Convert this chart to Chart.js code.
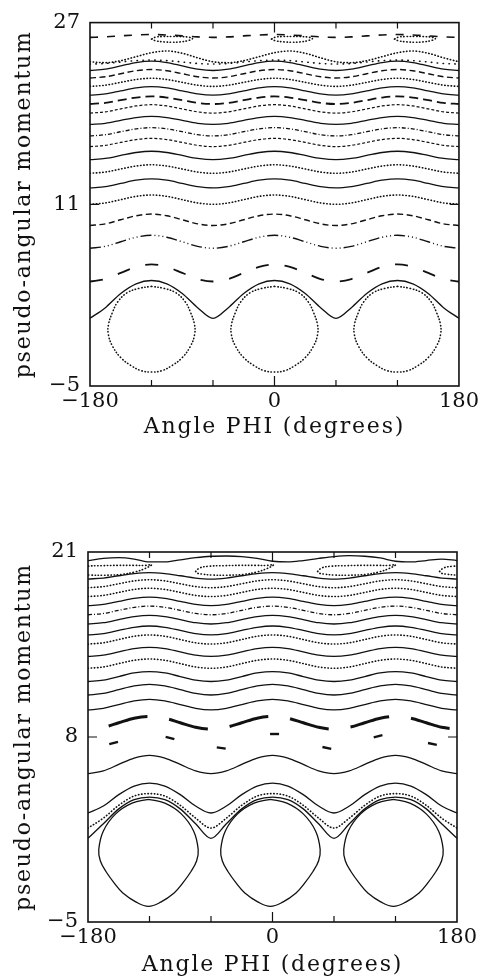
<!DOCTYPE html>
<html>
<head>
<meta charset="utf-8">
<script src="https://cdn.jsdelivr.net/npm/chart.js@4.4.1/dist/chart.umd.min.js"></script>
<style>
  html, body { margin: 0; padding: 0; background: #fff; }
  body { width: 482px; height: 980px; position: relative; overflow: hidden; }
  .panel { position: absolute; left: 0; width: 482px; }
  #topWrap { top: 0; height: 442px; }
  #botWrap { top: 490px; height: 490px; }
</style>
</head>
<body>
<div class="panel" id="topWrap"><canvas id="topChart"></canvas></div>
<div class="panel" id="botWrap"><canvas id="botChart"></canvas></div>
<script>
// shared angle grid (degrees)
const phi = [-180,-165,-150,-135,-120,-105,-90,-75,-60,-45,-30,-15,0,15,30,45,60,75,90,105,120,135,150,165,180];
const xLabelValues = [-180, 0, 180];
const xMarks = [-120, -60, 0, 60, 120];

// ---- upper panel ----
const topTicksY = [-5, 11, 27];
const t01 = [25.7,25.74,25.83,25.91,25.95,25.91,25.83,25.74,25.7,25.74,25.83,25.91,25.95,25.91,25.83,25.74,25.7,25.74,25.83,25.91,25.95,25.91,25.83,25.74,25.7];
const t02 = [23.55,23.47,23.65,24.0,24.35,24.5,24.3,23.9,23.55,23.47,23.65,24.0,24.35,24.5,24.3,23.9,23.55,23.47,23.65,24.0,24.35,24.5,24.3,23.9,23.55];
const t03 = [23.35,23.4,23.53,23.65,23.7,23.65,23.53,23.4,23.35,23.4,23.53,23.65,23.7,23.65,23.53,23.4,23.35,23.4,23.53,23.65,23.7,23.65,23.53,23.4,23.35];
const t04 = [22.78,22.9,23.19,23.48,23.6,23.48,23.19,22.9,22.78,22.9,23.19,23.48,23.6,23.48,23.19,22.9,22.78,22.9,23.19,23.48,23.6,23.48,23.19,22.9,22.78];
const t05 = [22.12,22.23,22.5,22.76,22.87,22.76,22.5,22.23,22.12,22.23,22.5,22.76,22.87,22.76,22.5,22.23,22.12,22.23,22.5,22.76,22.87,22.76,22.5,22.23,22.12];
const t06 = [21.38,21.49,21.74,21.99,22.1,21.99,21.74,21.49,21.38,21.49,21.74,21.99,22.1,21.99,21.74,21.49,21.38,21.49,21.74,21.99,22.1,21.99,21.74,21.49,21.38];
const t07 = [20.61,20.72,20.99,21.26,21.37,21.26,20.99,20.72,20.61,20.72,20.99,21.26,21.37,21.26,20.99,20.72,20.61,20.72,20.99,21.26,21.37,21.26,20.99,20.72,20.61];
const t08 = [19.83,19.93,20.17,20.4,20.5,20.4,20.17,19.93,19.83,19.93,20.17,20.4,20.5,20.4,20.17,19.93,19.83,19.93,20.17,20.4,20.5,20.4,20.17,19.93,19.83];
const t09 = [19.03,19.14,19.4,19.66,19.77,19.66,19.4,19.14,19.03,19.14,19.4,19.66,19.77,19.66,19.4,19.14,19.03,19.14,19.4,19.66,19.77,19.66,19.4,19.14,19.03];
const t10 = [18.03,18.13,18.39,18.64,18.74,18.64,18.39,18.13,18.03,18.13,18.39,18.64,18.74,18.64,18.39,18.13,18.03,18.13,18.39,18.64,18.74,18.64,18.39,18.13,18.03];
const t11 = [17.02,17.13,17.39,17.64,17.75,17.64,17.39,17.13,17.02,17.13,17.39,17.64,17.75,17.64,17.39,17.13,17.02,17.13,17.39,17.64,17.75,17.64,17.39,17.13,17.02];
const t12 = [16.08,16.19,16.45,16.7,16.81,16.7,16.45,16.19,16.08,16.19,16.45,16.7,16.81,16.7,16.45,16.19,16.08,16.19,16.45,16.7,16.81,16.7,16.45,16.19,16.08];
const t13 = [14.93,15.04,15.3,15.56,15.67,15.56,15.3,15.04,14.93,15.04,15.3,15.56,15.67,15.56,15.3,15.04,14.93,15.04,15.3,15.56,15.67,15.56,15.3,15.04,14.93];
const t14 = [13.73,13.84,14.11,14.37,14.48,14.37,14.11,13.84,13.73,13.84,14.11,14.37,14.48,14.37,14.11,13.84,13.73,13.84,14.11,14.37,14.48,14.37,14.11,13.84,13.73];
const t15 = [12.44,12.56,12.84,13.12,13.24,13.12,12.84,12.56,12.44,12.56,12.84,13.12,13.24,13.12,12.84,12.56,12.44,12.56,12.84,13.12,13.24,13.12,12.84,12.56,12.44];
const t16 = [11.0,11.12,11.41,11.7,11.82,11.7,11.41,11.12,11.0,11.12,11.41,11.7,11.82,11.7,11.41,11.12,11.0,11.12,11.41,11.7,11.82,11.7,11.41,11.12,11.0];
const t17 = [9.13,9.28,9.64,9.99,10.14,9.99,9.64,9.28,9.13,9.28,9.64,9.99,10.14,9.99,9.64,9.28,9.13,9.28,9.64,9.99,10.14,9.99,9.64,9.28,9.13];
const t18 = [7.13,7.3,7.7,8.1,8.27,8.1,7.7,7.3,7.13,7.3,7.7,8.1,8.27,8.1,7.7,7.3,7.13,7.3,7.7,8.1,8.27,8.1,7.7,7.3,7.13];
const t19 = [4.2,4.42,4.96,5.49,5.71,5.49,4.96,4.42,4.2,4.42,4.96,5.49,5.71,5.49,4.96,4.42,4.2,4.42,4.96,5.49,5.71,5.49,4.96,4.42,4.2];
const t20 = [0.96,1.9,3.15,4.0,4.29,4.0,3.15,1.9,0.96,1.9,3.15,4.0,4.29,4.0,3.15,1.9,0.96,1.9,3.15,4.0,4.29,4.0,3.15,1.9,0.96];

const topIslandCenters = [-120, 0, 120];
const topIslandDx = [0,12,24,33,38,42,42,38,30,20,10,0,-10,-20,-30,-38,-42,-42,-38,-33,-24,-12,0];
const topIslandP  = [3.77,3.6,3.2,2.4,1.5,0.4,-0.5,-1.5,-2.5,-3.2,-3.65,-3.77,-3.65,-3.2,-2.5,-1.5,-0.5,0.4,1.5,2.4,3.2,3.6,3.77];
const topChainCenters = [-100, 17, 137];
const topChainDx = [-20,-16,-8,0,8,16,20,16,8,0,-8,-16,-20];
const topChainP  = [25.55,25.4,25.3,25.27,25.3,25.42,25.6,25.72,25.77,25.78,25.77,25.72,25.55];

// ---- lower panel ----
const botTicksY = [-5, 8, 21];
const b01 = [20.4,20.55,20.6,20.5,20.3,20.3,20.45,20.6,20.7,20.72,20.68,20.55,20.35,20.3,20.4,20.55,20.68,20.74,20.7,20.58,20.35,20.3,20.4,20.5,20.4];
const b02 = [19.1,19.17,19.33,19.48,19.55,19.48,19.33,19.17,19.1,19.17,19.33,19.48,19.55,19.48,19.33,19.17,19.1,19.17,19.33,19.48,19.55,19.48,19.33,19.17,19.1];
const b03 = [18.49,18.57,18.77,18.97,19.05,18.97,18.77,18.57,18.49,18.57,18.77,18.97,19.05,18.97,18.77,18.57,18.49,18.57,18.77,18.97,19.05,18.97,18.77,18.57,18.49];
const b04 = [17.87,17.95,18.16,18.37,18.45,18.37,18.16,17.95,17.87,17.95,18.16,18.37,18.45,18.37,18.16,17.95,17.87,17.95,18.16,18.37,18.45,18.37,18.16,17.95,17.87];
const b05 = [17.23,17.32,17.53,17.74,17.83,17.74,17.53,17.32,17.23,17.32,17.53,17.74,17.83,17.74,17.53,17.32,17.23,17.32,17.53,17.74,17.83,17.74,17.53,17.32,17.23];
const b06 = [16.59,16.68,16.9,17.11,17.2,17.11,16.9,16.68,16.59,16.68,16.9,17.11,17.2,17.11,16.9,16.68,16.59,16.68,16.9,17.11,17.2,17.11,16.9,16.68,16.59];
const b07 = [15.94,16.03,16.25,16.46,16.55,16.46,16.25,16.03,15.94,16.03,16.25,16.46,16.55,16.46,16.25,16.03,15.94,16.03,16.25,16.46,16.55,16.46,16.25,16.03,15.94];
const b08 = [15.17,15.26,15.49,15.71,15.8,15.71,15.49,15.26,15.17,15.26,15.49,15.71,15.8,15.71,15.49,15.26,15.17,15.26,15.49,15.71,15.8,15.71,15.49,15.26,15.17];
const b09 = [14.53,14.62,14.85,15.08,15.17,15.08,14.85,14.62,14.53,14.62,14.85,15.08,15.17,15.08,14.85,14.62,14.53,14.62,14.85,15.08,15.17,15.08,14.85,14.62,14.53];
const b10 = [13.66,13.75,13.98,14.21,14.3,14.21,13.98,13.75,13.66,13.75,13.98,14.21,14.3,14.21,13.98,13.75,13.66,13.75,13.98,14.21,14.3,14.21,13.98,13.75,13.66];
const b11 = [12.83,12.92,13.16,13.39,13.48,13.39,13.16,12.92,12.83,12.92,13.16,13.39,13.48,13.39,13.16,12.92,12.83,12.92,13.16,13.39,13.48,13.39,13.16,12.92,12.83];
const b12 = [11.9,12.0,12.25,12.5,12.6,12.5,12.25,12.0,11.9,12.0,12.25,12.5,12.6,12.5,12.25,12.0,11.9,12.0,12.25,12.5,12.6,12.5,12.25,12.0,11.9];
const b13 = [10.95,11.06,11.33,11.59,11.7,11.59,11.33,11.06,10.95,11.06,11.33,11.59,11.7,11.59,11.33,11.06,10.95,11.06,11.33,11.59,11.7,11.59,11.33,11.06,10.95];
const b14 = [9.9,10.01,10.28,10.54,10.65,10.54,10.28,10.01,9.9,10.01,10.28,10.54,10.65,10.54,10.28,10.01,9.9,10.01,10.28,10.54,10.65,10.54,10.28,10.01,9.9];
const b15 = [8.55,8.68,9.0,9.32,9.45,9.32,9.0,8.68,8.55,8.68,9.0,9.32,9.45,9.32,9.0,8.68,8.55,8.68,9.0,9.32,9.45,9.32,9.0,8.68,8.55];
const b17 = [5.43,5.62,6.07,6.52,6.71,6.52,6.07,5.62,5.43,5.62,6.07,6.52,6.71,6.52,6.07,5.62,5.43,5.62,6.07,6.52,6.71,6.52,6.07,5.62,5.43];
const b18 = [2.66,3.15,3.95,4.55,4.76,4.55,3.95,3.15,2.66,3.15,3.95,4.55,4.76,4.55,3.95,3.15,2.66,3.15,3.95,4.55,4.76,4.55,3.95,3.15,2.66];
const b19 = [1.6,2.3,3.2,3.85,4.02,3.85,3.2,2.3,1.6,2.3,3.2,3.85,4.02,3.85,3.2,2.3,1.6,2.3,3.2,3.85,4.02,3.85,3.2,2.3,1.6];
const b20 = [0.88,1.9,2.95,3.6,3.78,3.6,2.95,1.9,0.88,1.9,2.95,3.6,3.78,3.6,2.95,1.9,0.88,1.9,2.95,3.6,3.78,3.6,2.95,1.9,0.88];

const strokePhi = [-155, -100, -50, 2, 53, 103, 156];
const strokeP   = [7.58, 7.93, 7.23, 8.21, 7.23, 8.05, 7.51];
const strokeTilt = [-15, 15, 8, 0, 12, -15, 12];

const botIslandCenters = [-121, -2, 118];
const botIslandDx = [0,16,32,44,48.5,47,41.5,33,25,12,0,-12,-25,-33,-41.5,-47,-48.5,-44,-32,-16,0];
const botIslandP  = [3.62,3.35,2.6,1.4,0.1,-0.7,-1.45,-2.3,-2.96,-3.6,-3.9,-3.6,-2.96,-2.3,-1.45,-0.7,0.1,1.4,2.6,3.35,3.62];
const botChainCenters = [-156, -37, 82, 201];
const botChainDx = [-38,-34,-25,-10,5,20,32,38,32,22,8,-8,-22,-32,-37,-38];
const botChainP  = [19.63,19.88,20.0,20.04,20.06,20.06,20.06,20.1,19.85,19.6,19.42,19.37,19.38,19.45,19.53,19.63];

// ---- styling ----
const INK = '#111';
const dashes = {
  solid: [], dotted: [0.4, 2.8], sparse: [0.4, 5.5], dash: [6, 3.5], dashTop: [8, 9],
  longDash: [9, 5], fineDash: [3, 2], dashDot: [4, 2, 1, 2],
  dashDotLong: [11, 3, 1, 3, 1, 3, 1, 3], bigDash: [13, 16], hatched: [40, 22]
};
const widths = {
  solid: 1.3, dotted: 1.6, sparse: 1.6, dash: 1.4, dashTop: 1.6, longDash: 1.8,
  fineDash: 1.2, dashDot: 1.3, dashDotLong: 1.4, bigDash: 1.8, hatched: 3
};
const tickFont = { family: 'DejaVu Serif', size: 21 };
const titleFont = { family: 'DejaVu Serif', size: 22 };

function curve(ys, kind) {
  return {
    data: phi.map((x, i) => ({ x, y: ys[i] })),
    borderColor: INK,
    borderWidth: widths[kind],
    borderDash: dashes[kind],
    borderDashOffset: kind === 'hatched' ? 41 : 0,
    borderCapStyle: (kind === 'dotted' || kind === 'sparse') ? 'round' : 'butt',
    cubicInterpolationMode: 'monotone',
    pointRadius: 0,
    fill: false
  };
}

function loops(centers, dx, ys, kind) {
  return centers.map(c => ({
    data: dx.map((d, i) => ({ x: c + d, y: ys[i] })),
    borderColor: INK,
    borderWidth: widths[kind],
    borderDash: dashes[kind],
    borderCapStyle: kind === 'dotted' ? 'round' : 'butt',
    tension: 0.4,
    pointRadius: 0,
    fill: false
  }));
}

const fmt = v => v < 0 ? '\u2212' + (-v) : String(v);

// box + inward tick marks
const frame = {
  id: 'frame',
  afterDatasetsDraw(chart) {
    const { ctx, chartArea: a, scales: { x, y } } = chart;
    ctx.save();
    ctx.strokeStyle = INK;
    ctx.lineWidth = 1.6;
    ctx.strokeRect(a.left, a.top, a.right - a.left, a.bottom - a.top);
    ctx.lineWidth = 1.2;
    ctx.beginPath();
    xMarks.forEach(v => {
      const px = x.getPixelForValue(v);
      const len = v === 0 ? 10 : 6;
      ctx.moveTo(px, a.bottom); ctx.lineTo(px, a.bottom - len);
      ctx.moveTo(px, a.top); ctx.lineTo(px, a.top + len);
    });
    y.ticks.forEach(t => {
      if (t.value === y.min || t.value === y.max) return;
      const py = y.getPixelForValue(t.value);
      ctx.moveTo(a.left, py); ctx.lineTo(a.left + 9, py);
      ctx.moveTo(a.right, py); ctx.lineTo(a.right - 9, py);
    });
    ctx.stroke();
    ctx.restore();
  }
};

// wide letter spacing for the axis titles only
const spacedTitles = {
  id: 'spacedTitles',
  beforeDraw(chart) { chart.ctx.letterSpacing = '1.8px'; },
  beforeDatasetsDraw(chart) { chart.ctx.letterSpacing = '0px'; }
};

function panel(id, datasets, yTicks, yWidth, xHeight, pad) {
  return new Chart(document.getElementById(id), {
    type: 'line',
    data: { datasets },
    options: {
      animation: false,
      responsive: true,
      maintainAspectRatio: false,
      layout: { padding: pad },
      plugins: { legend: { display: false }, tooltip: { enabled: false } },
      scales: {
        x: {
          type: 'linear', min: -180, max: 180,
          afterBuildTicks: s => { s.ticks = xLabelValues.map(v => ({ value: v })); },
          afterFit: s => { s.height = xHeight; },
          grid: { display: false, drawTicks: false },
          border: { display: false },
          ticks: { autoSkip: false, maxRotation: 0, padding: 3, z: 1, color: INK, font: tickFont, callback: v => fmt(v) },
          title: { display: true, text: 'Angle PHI (degrees)', color: INK, font: titleFont, padding: { top: 0, bottom: 2 } }
        },
        y: {
          type: 'linear', min: yTicks[0], max: yTicks[yTicks.length - 1],
          afterBuildTicks: s => { s.ticks = yTicks.map(v => ({ value: v })); },
          afterFit: s => { s.width = yWidth; },
          grid: { display: false, drawTicks: false },
          border: { display: false },
          ticks: { padding: 10, z: 1, color: INK, font: tickFont, callback: v => fmt(v) },
          title: { display: true, text: 'pseudo-angular momentum', color: INK, font: titleFont, padding: { top: 11, bottom: 0 } }
        }
      }
    },
    plugins: [frame, spacedTitles]
  });
}

const topSets = [
  curve(t01, 'dashTop'), curve(t02, 'dotted'), curve(t03, 'sparse'), curve(t04, 'solid'),
  curve(t05, 'dash'), curve(t06, 'dotted'), curve(t07, 'solid'), curve(t08, 'longDash'),
  curve(t09, 'fineDash'), curve(t10, 'solid'), curve(t11, 'dashDot'), curve(t12, 'fineDash'),
  curve(t13, 'solid'), curve(t14, 'dotted'), curve(t15, 'solid'), curve(t16, 'dotted'),
  curve(t17, 'dash'), curve(t18, 'dashDotLong'), curve(t19, 'bigDash'), curve(t20, 'solid'),
  ...loops(topIslandCenters, topIslandDx, topIslandP, 'dotted'),
  ...loops(topChainCenters, topChainDx, topChainP, 'dotted')
];

const botSets = [
  curve(b01, 'solid'), curve(b02, 'solid'), curve(b03, 'dotted'), curve(b04, 'dotted'),
  curve(b05, 'solid'), curve(b06, 'dashDot'), curve(b07, 'solid'), curve(b08, 'solid'),
  curve(b09, 'dotted'), curve(b10, 'solid'), curve(b11, 'dotted'), curve(b12, 'solid'),
  curve(b13, 'solid'), curve(b14, 'solid'), curve(b15, 'hatched'), curve(b17, 'solid'),
  curve(b18, 'solid'), curve(b19, 'dotted'), curve(b20, 'solid'),
  ...loops(botIslandCenters, botIslandDx, botIslandP, 'solid'),
  ...loops(botChainCenters, botChainDx, botChainP, 'dotted'),
  {
    data: strokePhi.map((x, i) => ({ x, y: strokeP[i] })),
    showLine: false,
    pointStyle: 'line',
    pointRadius: 4.5,
    pointBorderWidth: 2.4,
    pointBorderColor: INK,
    pointRotation: strokeTilt
  }
];

panel('topChart', topSets, topTicksY, 90, 56, { top: 14, right: 22, left: 0, bottom: 0 });
panel('botChart', botSets, botTicksY, 88, 58, { top: 62, right: 25, left: 0, bottom: 0 });
</script>
</body>
</html>
